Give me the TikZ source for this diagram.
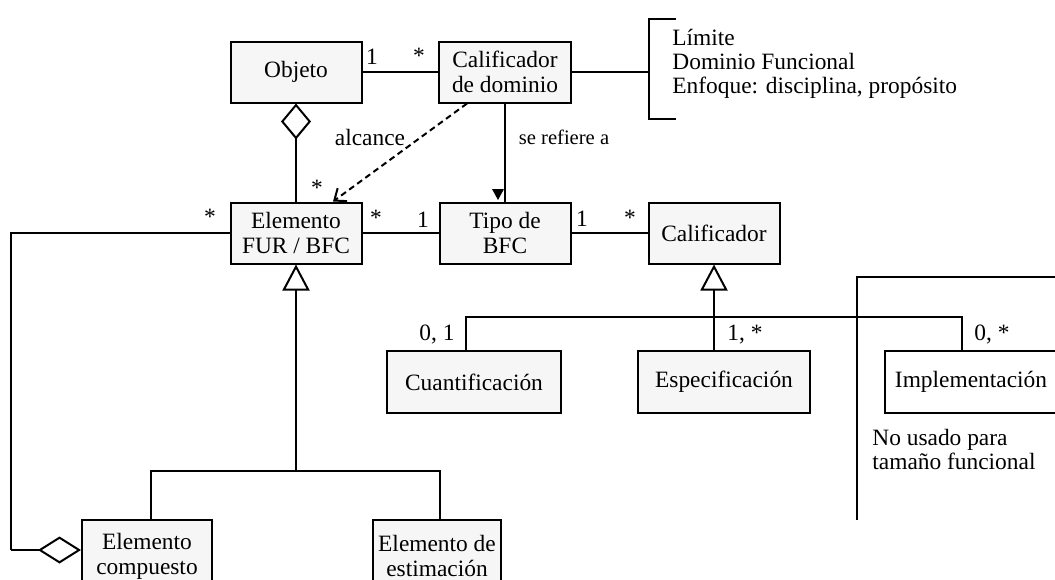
\documentclass[tikz,border=0pt]{standalone}
\usepackage{fontspec}
\setmainfont{Liberation Serif}
\usetikzlibrary{arrows.meta, calc, positioning}
\definecolor{boxgray}{RGB}{246,246,246}
\tikzset{
	clase/.style={draw, fill=boxgray, line width=1pt, align=center, inner sep=0pt,
		minimum width=65.5pt, minimum height=30.5pt,
		font=\fontsize{11.7}{12.5}\selectfont},
	mult/.style={inner sep=0pt, font=\fontsize{11.7}{12}\selectfont},
	nota/.style={inner sep=0pt, anchor=west, align=left, font=\fontsize{11.7}{12}\selectfont},
	lin/.style={line width=1pt},
	agreg/.style 2 args={-{Diamond[open, length=#1, width=#2]}},
	herencia/.style={-{Triangle[open, length=13pt, width=13.5pt]}}
}

\begin{document}
\begin{tikzpicture}[x=0.5pt, y=-0.5pt]
	\useasboundingbox (0,0) rectangle (1055,579);
	\clip (0,0) rectangle (1055,579);
% clases
	\node[clase] (objeto) at (296,72) {Objeto};
	\node[clase, minimum width=66pt] (califdom) at (505,72) {Calificador\\de dominio};
	\node[clase] (elemfur) at (296,233) {Elemento\\FUR / BFC};
	\node[clase] (tipobfc) at (505,233) {Tipo de\\BFC};
	\node[clase] (calif) at (714,233) {Calificador};
	\node[clase, minimum width=87pt, minimum height=31pt] (cuant) at (474,382) {Cuantificación};
	\node[clase, minimum width=86pt, minimum height=31pt] (espec) at (724,382) {Especificación};
	\node[clase, fill=white, minimum width=86pt, minimum height=31pt] (impl) at (971,382) {Implementación};
	\node[clase, minimum width=65pt, minimum height=36pt] (compuesto) at (147,556) {Elemento\\compuesto};
	\node[clase, minimum width=64pt, minimum height=36pt] (estim) at (437,556) {Elemento de\\estimación};
% asociaciones
	\draw[lin] (objeto) -- (califdom);
	\draw[lin] (elemfur) -- (tipobfc);
	\draw[lin] (tipobfc) -- (calif);
	\draw[lin] (califdom) -- (tipobfc);
	\fill (492,189) -- (504,189) -- (498,200) -- cycle;
	\draw[lin, agreg={18pt}{15pt}] (elemfur) -- (objeto);
	\draw[lin, dash pattern=on 3pt off 2pt, -{Straight Barb[length=5pt, width=8pt]}]
		([xshift=-19pt]califdom.south) -- ([xshift=18.5pt]elemfur.north);
	\coordinate (esq) at (11,233);
	\draw[lin] (elemfur) -- (esq) -- (11,550);
	\coordinate (pie) at (11,550);
	\draw[lin, agreg={21.5pt}{13.5pt}] (pie) -- (compuesto.west |- pie);
% llave
	\coordinate (llave) at (649,72);
	\draw[lin] (califdom) -- (llave);
	\draw[lin] (676,19) -- (649,19) -- (649,119) -- (676,119);
	\node[nota] (rasgos) at (672,64) {Límite\\Dominio Funcional\\Enfoque: disciplina, propósito};
% generalizaciones
	\coordinate (genfur) at (296,471);
	\draw[lin, herencia] (genfur) -- (elemfur);
	\draw[lin] ([xshift=2pt]compuesto.north) |- (genfur) -| ([xshift=1.5pt]estim.north);
	\coordinate (gencal) at (714,317);
	\draw[lin, herencia] (gencal |- espec.north) -- (calif.south);
	\draw[lin] ([xshift=-4pt]cuant.north) |- (gencal) -| ([xshift=-4.5pt]impl.north);
	\draw[lin] (1055,277) -- (857,277) -- (857,520);
	\node[nota] (nousado) at (872,449) {No usado para\\tamaño funcional};
% etiquetas
	\node[mult] (m1) at (372,57) {1};
	\node[mult] (m2) at (419,56) {*};
	\node[mult] (m3) at (317,188) {*};
	\node[mult] (m4) at (210,217) {*};
	\node[mult] (m5) at (376,218) {*};
	\node[mult] (m6) at (423,220) {1};
	\node[mult] (m7) at (582,219) {1};
	\node[mult] (m8) at (630,218) {*};
	\node[mult] (m9) at (437,335) {0, 1};
	\node[mult] (m10) at (745,335) {1, *};
	\node[mult] (m11) at (992,335) {0, *};
	\node[mult] (alc) at (370,137) {alcance};
	\node[mult, font=\fontsize{10.3}{12}\selectfont] (refiere) at (564,137) {se refiere a};
\end{tikzpicture}
\end{document}
